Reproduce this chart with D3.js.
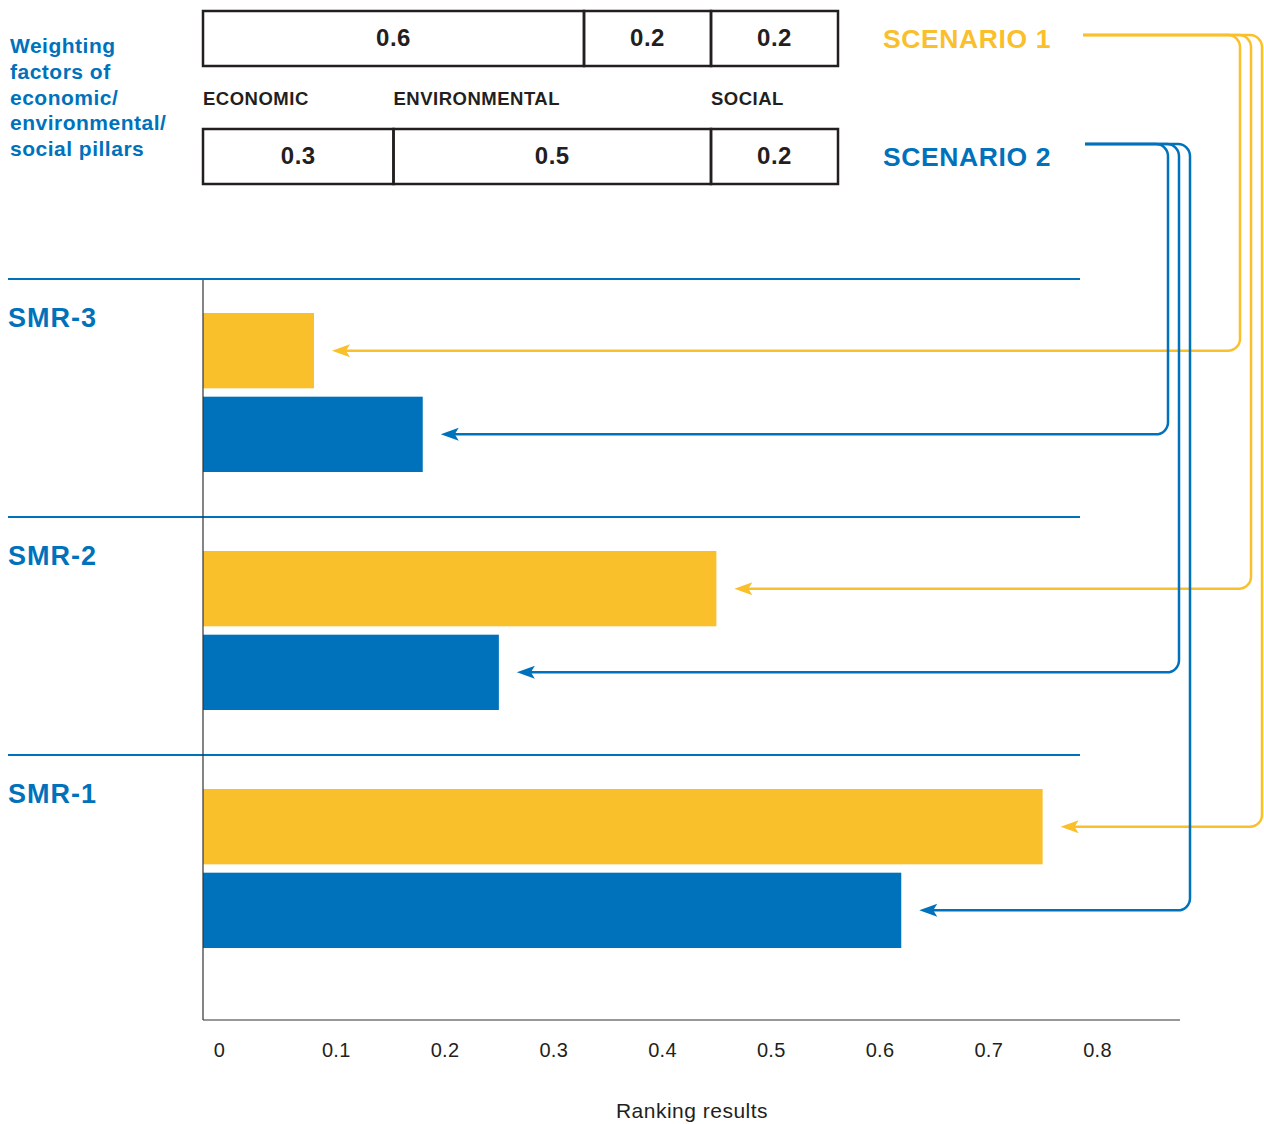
<!DOCTYPE html>
<html>
<head>
<meta charset="utf-8">
<script src="https://cdn.jsdelivr.net/npm/d3@7"></script>
<style>
  body { margin: 0; background: #fff; }
  svg { display: block; font-family: "Liberation Sans", Arial, Helvetica, sans-serif; }
</style>
</head>
<body>
<svg id="chart" width="1264" height="1124"></svg>
<script>
// categories from top to bottom
const categories = ["SMR-3", "SMR-2", "SMR-1"]
const scenarios = ["SCENARIO 1", "SCENARIO 2"]
const scenario1Values = [0.08, 0.45, 0.75]
const scenario2Values = [0.18, 0.25, 0.62]
const xTicks = [0, 0.1, 0.2, 0.3, 0.4, 0.5, 0.6, 0.7, 0.8]

const pillars = ["ECONOMIC", "ENVIRONMENTAL", "SOCIAL"]
const scenario1Weights = [0.6, 0.2, 0.2]
const scenario2Weights = [0.3, 0.5, 0.2]

const introLines = ["Weighting", "factors of", "economic/", "environmental/", "social pillars"]
const axisTitle = "Ranking results"

const YELLOW = "#F9C02B"
const BLUE = "#0072BC"
const INK = "#231F20"

const svg = d3.select("#chart")

const plot = {left: 203, top: 279, bottom: 1020, right: 1180}

const x = d3.scaleLinear().domain([0, 0.8]).range([227, 1097])
const y = d3.scaleBand().domain(categories).range([plot.top, plot.top + 238 * 3])
const sub = d3.scaleBand().domain(scenarios).range([34, 193]).paddingInner(0.1)
const color = d3.scaleOrdinal().domain(scenarios).range([YELLOW, BLUE])

// ---- intro text ----
svg.append("text")
  .attr("x", 10)
  .attr("y", 53)
  .attr("fill", BLUE)
  .style("font-weight", "bold")
  .style("font-size", "21px")
  .style("letter-spacing", "0.5px")
  .selectAll("tspan")
  .data(introLines)
  .join("tspan")
  .attr("x", 10)
  .attr("dy", (d, i) => i === 0 ? 0 : 25.75)
  .text(d => d)

// ---- weighting boxes ----
const w = d3.scaleLinear().domain([0, 1]).range([203, 838])
const boxRows = [
  {weights: scenario1Weights, top: 11, name: scenarios[0]},
  {weights: scenario2Weights, top: 129, name: scenarios[1]}
]
const boxH = 55

boxRows.forEach(row => {
  let acc = 0
  const cells = row.weights.map(v => {
    const c = {start: acc, value: v}
    acc += v
    return c
  })
  const g = svg.append("g")
  g.selectAll("rect")
    .data(cells)
    .join("rect")
    .attr("x", d => w(d.start))
    .attr("y", row.top)
    .attr("width", d => w(d.start + d.value) - w(d.start))
    .attr("height", boxH)
    .attr("fill", "none")
    .attr("stroke", INK)
    .attr("stroke-width", 2.5)
  g.selectAll("text")
    .data(cells)
    .join("text")
    .attr("x", d => (w(d.start) + w(d.start + d.value)) / 2)
    .attr("y", row.top + boxH / 2 + 7)
    .attr("text-anchor", "middle")
    .attr("fill", INK)
    .style("font-weight", "bold")
    .style("font-size", "24px")
    .style("letter-spacing", "0.5px")
    .text(d => d.value)

  svg.append("text")
    .attr("x", 883)
    .attr("y", row.top + 37)
    .attr("fill", color(row.name))
    .style("font-weight", "bold")
    .style("font-size", "26.5px")
    .style("letter-spacing", "0.6px")
    .text(row.name)
})

// pillar labels sit at the start of each scenario 2 cell
let pillarAcc = 0
const pillarStarts = scenario2Weights.map(v => { const s = pillarAcc; pillarAcc += v; return s })
svg.append("g")
  .selectAll("text")
  .data(pillars)
  .join("text")
  .attr("x", (d, i) => w(pillarStarts[i]))
  .attr("y", 105)
  .attr("fill", INK)
  .style("font-weight", "bold")
  .style("font-size", "18.5px")
  .style("letter-spacing", "0.5px")
  .text(d => d)

// ---- separators & category labels ----
svg.append("g")
  .selectAll("line")
  .data(categories)
  .join("line")
  .attr("x1", 8)
  .attr("x2", 1080)
  .attr("y1", d => y(d))
  .attr("y2", d => y(d))
  .attr("stroke", BLUE)
  .attr("stroke-width", 2.2)

svg.append("g")
  .selectAll("text")
  .data(categories)
  .join("text")
  .attr("x", 8)
  .attr("y", d => y(d) + 48)
  .attr("fill", BLUE)
  .style("font-weight", "bold")
  .style("font-size", "27px")
  .style("letter-spacing", "1px")
  .text(d => d)

// ---- bars ----
const rows = categories.map((c, i) => ({
  category: c,
  values: [
    {scenario: scenarios[0], value: scenario1Values[i]},
    {scenario: scenarios[1], value: scenario2Values[i]}
  ]
}))

const barGroups = svg.append("g")
  .selectAll("g")
  .data(rows)
  .join("g")
  .attr("transform", d => `translate(0,${y(d.category)})`)

barGroups.selectAll("rect")
  .data(d => d.values)
  .join("rect")
  .attr("x", plot.left)
  .attr("y", d => sub(d.scenario))
  .attr("width", d => x(d.value) - plot.left)
  .attr("height", sub.bandwidth())
  .attr("fill", d => color(d.scenario))

// ---- axes ----
svg.append("line")
  .attr("x1", plot.left).attr("x2", plot.left)
  .attr("y1", plot.top + 1).attr("y2", plot.bottom)
  .attr("stroke", "#333").attr("stroke-width", 1.2)

svg.append("line")
  .attr("x1", plot.left).attr("x2", plot.right)
  .attr("y1", plot.bottom).attr("y2", plot.bottom)
  .attr("stroke", "#333").attr("stroke-width", 1.2)

const xAxis = svg.append("g")
  .attr("transform", `translate(0,${plot.bottom})`)
  .call(d3.axisBottom(x).tickValues(xTicks).tickSize(0).tickPadding(23).tickFormat(d => d === 0 ? "0" : d3.format(".1f")(d)))
xAxis.select(".domain").remove()
xAxis.selectAll("text")
  .attr("fill", INK)
  .style("font-size", "20px")
  .style("letter-spacing", "0.3px")
  .style("font-family", "'Liberation Sans', Arial, sans-serif")
  .attr("dx", d => d === 0 ? -8 : 0)

svg.append("text")
  .attr("x", 692)
  .attr("y", 1118)
  .attr("text-anchor", "middle")
  .attr("fill", INK)
  .style("font-size", "21px")
  .style("letter-spacing", "0.5px")
  .text(axisTitle)

// ---- connector arrows ----
const r = 12
const tipGap = 18
const routes = [
  {scenario: scenarios[0], startX: 1083, topY: 35, baseX: 1240},
  {scenario: scenarios[1], startX: 1085, topY: 144, baseX: 1168}
]

const arrows = []
routes.forEach(rt => {
  rows.forEach((row, i) => {
    const v = row.values.find(d => d.scenario === rt.scenario)
    arrows.push({
      scenario: rt.scenario,
      startX: rt.startX,
      topY: rt.topY,
      vx: rt.baseX + i * 11,
      ay: y(row.category) + sub(rt.scenario) + sub.bandwidth() / 2,
      tip: x(v.value) + tipGap
    })
  })
})

const arrowG = svg.append("g")
arrowG.selectAll("path.route")
  .data(arrows)
  .join("path")
  .attr("class", "route")
  .attr("fill", "none")
  .attr("stroke", d => color(d.scenario))
  .attr("stroke-width", 2.5)
  .attr("d", d => {
    const p = d3.path()
    p.moveTo(d.startX, d.topY)
    p.lineTo(d.vx - r, d.topY)
    p.arcTo(d.vx, d.topY, d.vx, d.topY + r, r)
    p.lineTo(d.vx, d.ay - r)
    p.arcTo(d.vx, d.ay, d.vx - r, d.ay, r)
    p.lineTo(d.tip + 12, d.ay)
    return p.toString()
  })

arrowG.selectAll("path.head")
  .data(arrows)
  .join("path")
  .attr("class", "head")
  .attr("fill", d => color(d.scenario))
  .attr("d", d => `M${d.tip},${d.ay} L${d.tip + 18},${d.ay - 6.5} L${d.tip + 14},${d.ay} L${d.tip + 18},${d.ay + 6.5} Z`)
</script>
</body>
</html>
